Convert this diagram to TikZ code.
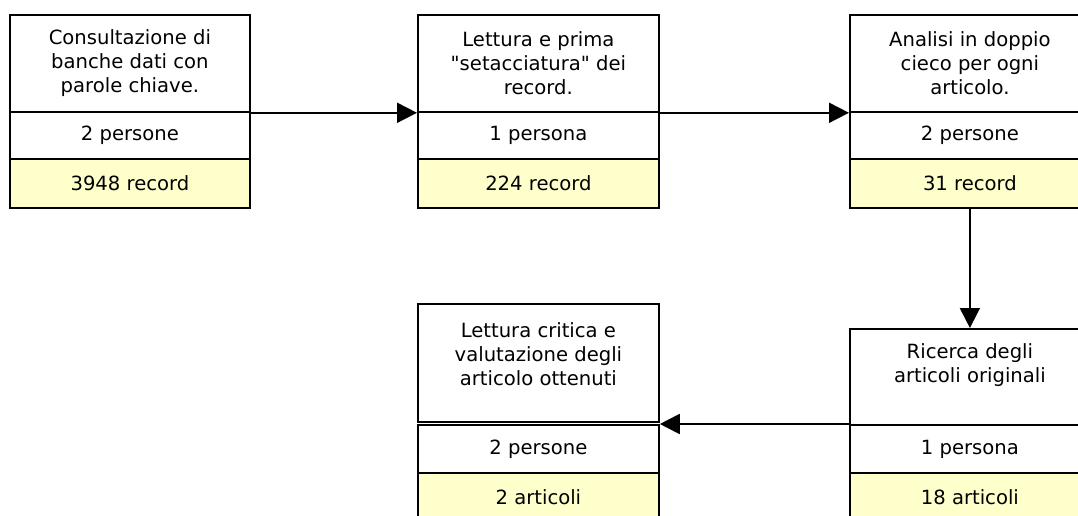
\documentclass[tikz,border=0pt]{standalone}
\usepackage{fontspec}
\setmainfont{DejaVu Sans}[Ligatures=TeXOff]
\usetikzlibrary{arrows.meta}
\definecolor{paleyellow}{HTML}{FFFFCC}
\tikzset{
  sec/.style={draw=black, line width=1.8pt, fill=white, inner sep=0pt, align=center, anchor=north west,
    font=\fontsize{19.6}{24}\selectfont},
  ysec/.style={sec, fill=paleyellow},
  lbl/.style={inner sep=0pt, align=center, anchor=north, font=\fontsize{19.6}{24}\selectfont},
  flow/.style={line width=1.8pt, -{Triangle[length=20pt,width=20pt]}},
}
\begin{document}
\begin{tikzpicture}[x=1pt,y=-1pt]
\useasboundingbox (0,0) rectangle (1078,516);
\clip (0,0) rectangle (1078,516);
\fill[white] (0,0) rectangle (1078,516);
% box 1
\node[sec, minimum width=240pt, minimum height=97pt] (b1t) at (9,14) {Consultazione di\\banche dati con\\parole chiave.};
\node[sec, minimum width=240pt, minimum height=47pt] (b1m) at (9,111) {2 persone};
\node[ysec, minimum width=240pt, minimum height=49pt] (b1b) at (9,158) {3948 record};
% box 2
\node[sec, minimum width=241pt, minimum height=97pt] (b2t) at (417,14) {Lettura e prima\\"setacciatura" dei\\record.};
\node[sec, minimum width=241pt, minimum height=47pt] (b2m) at (417,111) {1 persona};
\node[ysec, minimum width=241pt, minimum height=49pt] (b2b) at (417,158) {224 record};
% box 3
\node[sec, minimum width=240pt, minimum height=97pt] (b3t) at (849,14) {Analisi in doppio\\cieco per ogni\\articolo.};
\node[sec, minimum width=240pt, minimum height=47pt] (b3m) at (849,111) {2 persone};
\node[ysec, minimum width=240pt, minimum height=49pt] (b3b) at (849,158) {31 record};
% box 5
\node[sec, minimum width=240pt, minimum height=96pt] (b5t) at (849,328) {};
\node[lbl] (b5l) at ([yshift=-15pt]b5t.north) {Ricerca degli\\articoli originali};
\node[sec, minimum width=240pt, minimum height=48pt] (b5m) at (849,424) {1 persona};
\node[ysec, minimum width=240pt, minimum height=49pt] (b5b) at (849,472) {18 articoli};
% box 4
\node[sec, minimum width=241pt, minimum height=118pt] (b4t) at (417,303) {};
\node[lbl] (b4l) at ([yshift=-19pt]b4t.north) {Lettura critica e\\valutazione degli\\articolo ottenuti};
\node[sec, minimum width=241pt, minimum height=48pt] (b4m) at (417,424) {2 persone};
\node[ysec, minimum width=241pt, minimum height=49pt] (b4b) at (417,472) {2 articoli};
% connectors
\draw[flow] (b1t.south east) -- (b2t.south west);
\draw[flow] (b2t.south east) -- (b3t.south west);
\draw[flow] (b3b.south) -- (b5t.north);
\draw[flow] (b5m.north west) -- (b4m.north east);
\end{tikzpicture}
\end{document}
